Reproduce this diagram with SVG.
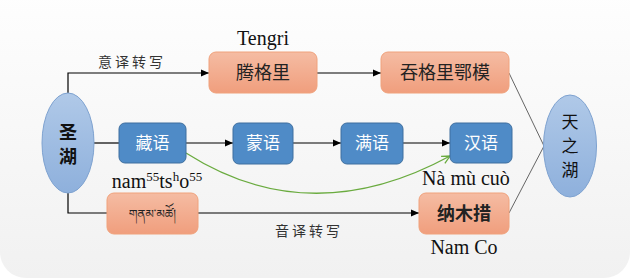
<svg xmlns="http://www.w3.org/2000/svg" width="635" height="279" viewBox="0 0 635 279">
<defs>
<linearGradient id="bg" x1="0" y1="0" x2="0" y2="1">
<stop offset="0" stop-color="#ffffff"/>
<stop offset="1" stop-color="#f1f1f1"/>
</linearGradient>
<linearGradient id="og" x1="0" y1="0" x2="0" y2="1">
<stop offset="0" stop-color="#f5bca3"/>
<stop offset="1" stop-color="#f09e7d"/>
</linearGradient>
<linearGradient id="eg" x1="0" y1="0" x2="0" y2="1">
<stop offset="0" stop-color="#b0c9e8"/>
<stop offset="1" stop-color="#8eb0dc"/>
</linearGradient>
<marker id="ar" markerWidth="8" markerHeight="8" refX="8" refY="4" orient="auto" markerUnits="userSpaceOnUse">
<path d="M0,0.5 L8,4 L0,7.5 Z" fill="#000"/>
</marker>
<marker id="ag" markerWidth="10" markerHeight="10" refX="9" refY="5" orient="auto" markerUnits="userSpaceOnUse">
<path d="M1,1 L9,5 L1,9" fill="none" stroke="#6aab3f" stroke-width="1.3"/>
</marker>
<style>
.ob{fill:url(#og);stroke:#f0a27c;stroke-width:1}
.bb{fill:#4f8bc7;stroke:#3f6f9f;stroke-width:1}
.el{fill:url(#eg);stroke:#7ea2d0;stroke-width:1}
.cj{font-family:"Noto Sans CJK SC",sans-serif;text-anchor:middle}
.ot{font-size:18px;fill:#222}
.wt{font-size:17px;fill:#fff}
.lab{font-family:"Noto Sans CJK SC",sans-serif;font-size:14px;fill:#333;letter-spacing:3px}
.ser{font-family:"Liberation Serif",serif;font-size:20px;fill:#111;text-anchor:middle}
.ln{fill:none;stroke:#000;stroke-width:1.2}
.gl{fill:none;stroke:#555;stroke-width:0.9}
</style>
</defs>
<rect x="0" y="-30" width="630" height="308" rx="26" fill="url(#bg)"/>
<g id="connectors">
<path class="ln" d="M68,93 V73 H209" marker-end="url(#ar)"/>
<path class="ln" d="M317,73 H381" marker-end="url(#ar)"/>
<path class="gl" d="M509,73 L544,146"/>
<path class="gl" d="M509,213 L544,146"/>
<path class="ln" d="M94,143 H119"/>
<path class="ln" d="M186,143 H233" marker-end="url(#ar)"/>
<path class="ln" d="M293,143 H341" marker-end="url(#ar)"/>
<path class="ln" d="M403,143 H450" marker-end="url(#ar)"/>
<path d="M186,153 Q310,232 450,156" fill="none" stroke="#6aab3f" stroke-width="1.3" marker-end="url(#ag)"/>
<path class="ln" d="M68,193 V213 H107"/>
<path class="ln" d="M198,213 H419" marker-end="url(#ar)"/>
</g>
<g id="shenghu">
<ellipse class="el" cx="68" cy="143" rx="26" ry="50"/>
<text class="cj" x="68" y="139" font-size="18" font-weight="bold" fill="#111">圣</text>
<text class="cj" x="68" y="163" font-size="18" font-weight="bold" fill="#111">湖</text>
</g>
<g id="tianzhihu">
<ellipse class="el" cx="570" cy="146" rx="26.5" ry="51"/>
<text class="cj" x="570" y="128" font-size="17" fill="#111">天</text>
<text class="cj" x="570" y="152" font-size="17" fill="#111">之</text>
<text class="cj" x="570" y="176" font-size="17" fill="#111">湖</text>
</g>
<g id="tenggeli">
<rect class="ob" x="209" y="52" width="108" height="41" rx="7"/>
<text class="cj ot" x="263" y="79">腾格里</text>
</g>
<g id="tungeli">
<rect class="ob" x="381" y="52" width="128" height="41" rx="7"/>
<text class="cj ot" x="445" y="79">吞格里鄂模</text>
</g>
<g id="tibetan">
<rect class="ob" x="107" y="193" width="91" height="41" rx="7"/>
<text x="152.5" y="218" font-family="'Noto Sans Tibetan','Noto Serif Tibetan',sans-serif" font-size="12" fill="#222" text-anchor="middle">གནམ་མཚོ།</text>
</g>
<g id="namucuo">
<rect class="ob" x="419" y="193" width="90" height="41" rx="7"/>
<text class="cj ot" x="464" y="220" font-weight="bold">纳木措</text>
</g>
<g id="zangyu">
<rect class="bb" x="119" y="123" width="67" height="40" rx="6"/>
<text class="cj wt" x="152.5" y="149">藏语</text>
</g>
<g id="mengyu">
<rect class="bb" x="233" y="123" width="60" height="41" rx="6"/>
<text class="cj wt" x="263" y="149">蒙语</text>
</g>
<g id="manyu">
<rect class="bb" x="341" y="123" width="62" height="41" rx="6"/>
<text class="cj wt" x="372" y="149">满语</text>
</g>
<g id="hanyu">
<rect class="bb" x="450" y="123" width="62" height="40" rx="6"/>
<text class="cj wt" x="481" y="149">汉语</text>
</g>
<g id="labels">
<text class="ser" x="263" y="45">Tengri</text>
<text class="lab" x="98" y="67">意译转写</text>
<text class="ser" x="157" y="188">nam<tspan font-size="13" dy="-7">55</tspan><tspan dy="7">ts</tspan><tspan font-size="13" dy="-7">h</tspan><tspan dy="7">o</tspan><tspan font-size="13" dy="-7">55</tspan></text>
<text class="ser" x="466" y="185">Nà mù cuò</text>
<text class="lab" x="275" y="236">音译转写</text>
<text class="ser" x="464" y="254">Nam Co</text>
</g>
</svg>
